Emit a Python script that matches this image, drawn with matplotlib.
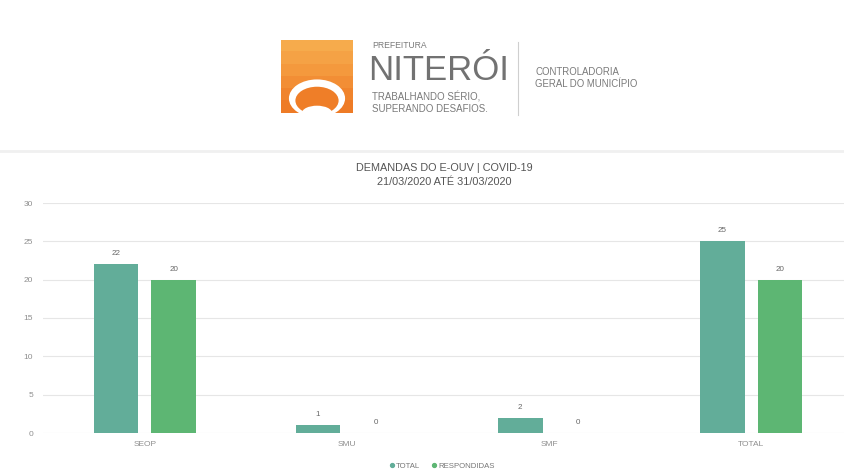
import matplotlib
matplotlib.use("Agg")
import matplotlib.pyplot as plt
from matplotlib.patches import Rectangle, Ellipse
from matplotlib.lines import Line2D
import numpy as np

categories = ["SEOP", "SMU", "SMF", "TOTAL"]
total = [22, 1, 2, 25]
respondidas = [20, 0, 0, 20]
yticks = [0, 5, 10, 15, 20, 25, 30]
title_lines = ["DEMANDAS DO E-OUV | COVID-19", "21/03/2020 ATÉ 31/03/2020"]
series_names = ["TOTAL", "RESPONDIDAS"]

C_TOTAL = "#62ad99"
C_RESP = "#5db673"

W, H = 844, 475
fig = plt.figure(figsize=(W / 100, H / 100), dpi=100)
fig.patch.set_facecolor("white")
FONT = ["Liberation Sans", "DejaVu Sans"]

def fx(px):
    return px / W

def fy(py):
    return 1 - py / H

# ---- logo ----
lax = fig.add_axes([fx(281), fy(113), fx(72), (113 - 40) / H])
lax.set_xlim(0, 1)
lax.set_ylim(0, 1)
lax.axis("off")
bands = ["#f6ab4c", "#f5a245", "#f4993d", "#f28e35", "#f0842d", "#ee7b26"]
n = len(bands)
for i, c in enumerate(bands):
    lax.add_patch(Rectangle((0, 1 - (i + 1) / n), 1, 1 / n + 0.01, color=c, lw=0))
# arch
lax.add_patch(Ellipse((0.5, 0.2), 0.78, 0.52, color="white", lw=0))
lax.add_patch(Ellipse((0.5, 0.17), 0.6, 0.38, color="#ef7e28", lw=0))
lax.add_patch(Ellipse((0.5, 0.0), 0.42, 0.2, color="white", lw=0))
lax.add_patch(Rectangle((0, -0.05), 1, 0.05, color="white", lw=0))

logo_gray = "#7a7a7a"
fig.text(fx(372), fy(46), "PREFEITURA", fontsize=6.2, color=logo_gray,
         family=FONT, va="center", ha="left")
fig.text(fx(368), fy(70), "NITERÓI", fontsize=25, color="#727272",
         family=FONT, va="center", ha="left")
fig.text(fx(372), fy(97), "TRABALHANDO SÉRIO,", fontsize=7.0, color=logo_gray,
         family=FONT, va="center", ha="left")
fig.text(fx(372), fy(109), "SUPERANDO DESAFIOS.", fontsize=7.0, color=logo_gray,
         family=FONT, va="center", ha="left")
fig.add_artist(Line2D([fx(518), fx(518)], [fy(42), fy(115)], color="#cfcfcf", lw=0.8))
fig.text(fx(535), fy(72), "CONTROLADORIA", fontsize=6.9, color=logo_gray,
         family=FONT, va="center", ha="left")
fig.text(fx(535), fy(84), "GERAL DO MUNICÍPIO", fontsize=6.9, color=logo_gray,
         family=FONT, va="center", ha="left")

# separator band
fig.add_artist(Line2D([0, 1], [fy(151), fy(151)], color="#f0f0f0", lw=2))

# ---- chart ----
ax = fig.add_axes([fx(43), fy(433), 1 - fx(43), (433 - 203) / H])
x = np.arange(len(categories))
bw = 0.222
off = 0.143
b1 = ax.bar(x - off, total, bw, color=C_TOTAL, label=series_names[0], zorder=3)
b2 = ax.bar(x + off, respondidas, bw, color=C_RESP, label=series_names[1], zorder=3)
for bars in (b1, b2):
    for r in bars:
        ax.annotate(f"{int(r.get_height())}", (r.get_x() + r.get_width() / 2, r.get_height()),
                    xytext=(0, 5), textcoords="offset points", ha="center", va="bottom",
                    fontsize=5.8, color="#666666", family=FONT)

ax.set_xlim(-0.504, 3.46)
ax.set_ylim(0, 30)
ax.set_yticks(yticks)
ax.set_xticks(x)
ax.set_xticklabels(categories)
ax.grid(axis="y", color="#e6e6e6", lw=0.8, zorder=0)
for s in ax.spines.values():
    s.set_visible(False)
ax.tick_params(axis="both", length=0, labelsize=6, labelcolor="#8f8f8f")
ax.tick_params(axis="y", pad=7)
ax.tick_params(axis="x", pad=6)
for t in ax.get_xticklabels() + ax.get_yticklabels():
    t.set_family(FONT)

fig.text(fx(444), fy(168), title_lines[0], fontsize=7.8, color="#555555",
         family=FONT, ha="center", va="center")
fig.text(fx(444), fy(182), title_lines[1], fontsize=7.8, color="#555555",
         family=FONT, ha="center", va="center")

handles = [Line2D([], [], marker="o", ls="", color=C_TOTAL, markersize=2.8),
           Line2D([], [], marker="o", ls="", color=C_RESP, markersize=2.8)]
leg = fig.legend(handles, series_names, loc="center", bbox_to_anchor=(fx(442), fy(466)),
                 ncol=2, frameon=False, handletextpad=0.2, columnspacing=1.6,
                 handlelength=0.6, prop={"family": FONT, "size": 5.6})
for t in leg.get_texts():
    t.set_color("#777777")

fig.savefig("out.png", dpi=100, facecolor="white")
